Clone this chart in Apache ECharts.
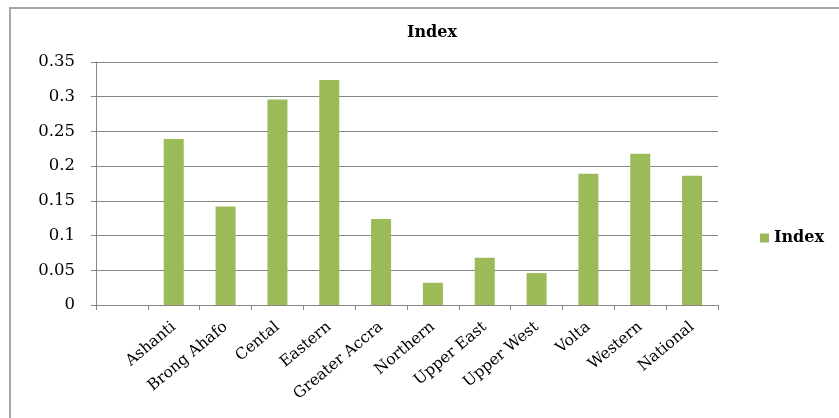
<!DOCTYPE html>
<html>
<head>
<meta charset="utf-8">
<script src="https://cdn.jsdelivr.net/npm/echarts@6/dist/echarts.min.js"></script>
<style>html,body{margin:0;padding:0;background:#fff;}#chart{width:839px;height:418px;}</style>
</head>
<body>
<div id="chart"></div>
<script>
const categories = ['', 'Ashanti', 'Brong Ahafo', 'Cental', 'Eastern', 'Greater Accra', 'Northern', 'Upper East', 'Upper West', 'Volta', 'Western', 'National'];
const indexValues = [null, 0.239, 0.142, 0.296, 0.324, 0.124, 0.032, 0.068, 0.046, 0.189, 0.218, 0.186];
const yTicks = { min: 0, max: 0.35, interval: 0.05 };

const chart = echarts.init(document.getElementById('chart'));
const serif = '"DejaVu Serif", "Liberation Serif", serif';
chart.setOption({
  animation: false,
  backgroundColor: '#fff',
  graphic: [{
    type: 'rect', shape: { x: 10, y: 8, width: 840, height: 420 },
    style: { fill: 'none', stroke: '#a6a6a6', lineWidth: 2 }, silent: true
  }],
  title: {
    text: 'Index', left: 427, top: 20, textAlign: 'center',
    textStyle: { fontFamily: serif, fontWeight: 'bold', fontSize: 16, color: '#000' }
  },
  legend: {
    data: ['Index'], left: 755, top: 225, orient: 'vertical',
    icon: 'rect', itemWidth: 9, itemHeight: 9, itemGap: 5,
    textStyle: { fontFamily: serif, fontWeight: 'bold', fontSize: 16, color: '#000' }
  },
  grid: { left: 96, right: 121, top: 62, bottom: 113, containLabel: false },
  xAxis: {
    type: 'category', data: categories,
    axisLine: { lineStyle: { color: '#868686', width: 1 } },
    axisTick: { show: true, length: 5, lineStyle: { color: '#868686' } },
    axisLabel: { rotate: 40, interval: 0, margin: 20, fontFamily: serif, fontSize: 15.5, color: '#000' }
  },
  yAxis: {
    type: 'value', min: yTicks.min, max: yTicks.max, interval: yTicks.interval,
    axisLine: { show: true, lineStyle: { color: '#868686' } },
    axisTick: { show: true, length: 5, lineStyle: { color: '#868686' } },
    splitLine: { lineStyle: { color: '#868686', width: 1 } },
    axisLabel: { margin: 21, fontFamily: serif, fontSize: 16.5, color: '#000',
      formatter: v => String(parseFloat(v.toFixed(2))) }
  },
  series: [{
    name: 'Index', type: 'bar', data: indexValues, barWidth: 20,
    itemStyle: { color: '#9bbb59' }
  }]
});
</script>
</body>
</html>
